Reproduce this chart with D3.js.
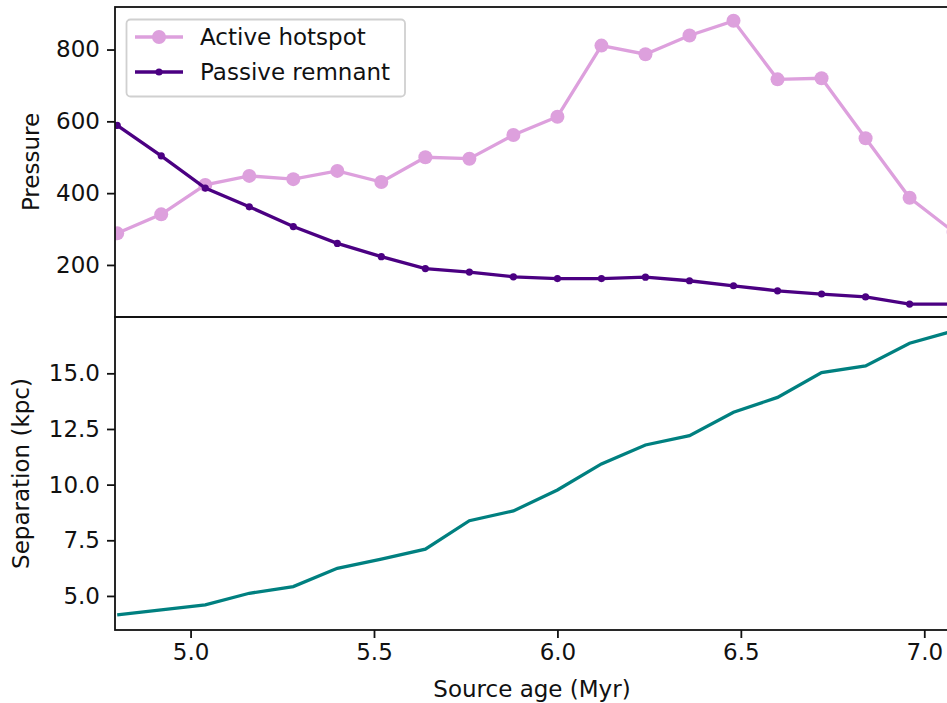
<!DOCTYPE html>
<html>
<head>
<meta charset="utf-8">
<script src="https://cdn.jsdelivr.net/npm/d3@7"></script>
<style>
  body { margin: 0; background: #fff; }
  text { font-family: "DejaVu Sans", sans-serif; fill: #111; }
  .axis text { font-size: 23px; }
  .axis path, .axis line { stroke: #111; }
</style>
</head>
<body>
<div id="chart"></div>
<script>
// source ages, one every 0.12 Myr
const ages = [4.80, 4.92, 5.04, 5.16, 5.28, 5.40, 5.52, 5.64, 5.76, 5.88,
              6.00, 6.12, 6.24, 6.36, 6.48, 6.60, 6.72, 6.84, 6.96, 7.08];
const activeHotspot = [288, 341, 423, 448, 439, 462, 431, 500, 496, 562,
                       613, 811, 787, 839, 880, 717, 720, 553, 387, 292];
const passiveRemnant = [589, 504, 414, 362, 307, 260, 223, 190, 180, 167,
                        162, 162, 166, 156, 142, 128, 119, 111, 91, 91];
const separation = [4.15, 4.37, 4.60, 5.12, 5.42, 6.24, 6.65, 7.10, 8.38, 8.82,
                    9.76, 10.93, 11.78, 12.20, 13.25, 13.92, 15.03, 15.33, 16.35, 16.91];
const xTicks = [5.0, 5.5, 6.0, 6.5, 7.0];
const pressureTicks = [200, 400, 600, 800];
const sepTicks = [5.0, 7.5, 10.0, 12.5, 15.0];
const seriesNames = ["Active hotspot", "Passive remnant"];

const width = 947, height = 703;
// axes box, right spine sits just past the edge of the picture
const left = 115, right = 949, top1 = 7, mid = 317, bottom = 630;

const svg = d3.select("#chart")
  .append("svg")
  .attr("width", width)
  .attr("height", height);

let x = d3.scaleLinear()
  .domain([4.794, 7.0674])
  .range([left, right]);

let yP = d3.scaleLinear()
  .domain([55, 918.5])
  .range([mid, top1]);

let yS = d3.scaleLinear()
  .domain([3.47, 17.53])
  .range([bottom, mid]);

// clip each panel to its axes box
const defs = svg.append("defs");
defs.append("clipPath").attr("id", "clipTop")
  .append("rect").attr("x", left).attr("y", top1).attr("width", right - left).attr("height", mid - top1);
defs.append("clipPath").attr("id", "clipBot")
  .append("rect").attr("x", left).attr("y", mid).attr("width", right - left).attr("height", bottom - mid);

/* top panel: pressure */
const topG = svg.append("g").attr("clip-path", "url(#clipTop)");

let linePressure = d3.line()
  .x((d, i) => x(ages[i]))
  .y(d => yP(d));

topG.append("path")
  .datum(activeHotspot)
  .attr("d", linePressure)
  .attr("fill", "none")
  .attr("stroke", "plum")
  .attr("stroke-width", 3.3);

topG.selectAll(".dot-active")
  .data(activeHotspot)
  .join("circle")
  .attr("class", "dot-active")
  .attr("cx", (d, i) => x(ages[i]))
  .attr("cy", d => yP(d))
  .attr("r", 7)
  .attr("fill", "plum");

topG.append("path")
  .datum(passiveRemnant)
  .attr("d", linePressure)
  .attr("fill", "none")
  .attr("stroke", "indigo")
  .attr("stroke-width", 3.3);

topG.selectAll(".dot-passive")
  .data(passiveRemnant)
  .join("circle")
  .attr("class", "dot-passive")
  .attr("cx", (d, i) => x(ages[i]))
  .attr("cy", d => yP(d))
  .attr("r", 3.6)
  .attr("fill", "indigo");

/* bottom panel: separation */
const botG = svg.append("g").attr("clip-path", "url(#clipBot)");

botG.append("path")
  .datum(separation)
  .attr("d", d3.line().x((d, i) => x(ages[i])).y(d => yS(d)))
  .attr("fill", "none")
  .attr("stroke", "teal")
  .attr("stroke-width", 3.3);

// axes
svg.append("g")
  .attr("class", "axis")
  .attr("transform", `translate(${left},0)`)
  .call(d3.axisLeft(yP).tickValues(pressureTicks).tickSize(8).tickPadding(7).tickSizeOuter(0))
  .call(g => g.select(".domain").remove());

svg.append("g")
  .attr("class", "axis")
  .attr("transform", `translate(${left},0)`)
  .call(d3.axisLeft(yS).tickValues(sepTicks).tickFormat(d3.format(".1f")).tickSize(8).tickPadding(7).tickSizeOuter(0))
  .call(g => g.select(".domain").remove());

svg.append("g")
  .attr("class", "axis")
  .attr("transform", `translate(0,${bottom})`)
  .call(d3.axisBottom(x).tickValues(xTicks).tickFormat(d3.format(".1f")).tickSize(8).tickPadding(6).tickSizeOuter(0))
  .call(g => g.select(".domain").remove());

svg.selectAll(".axis line").attr("stroke-width", 1.8);

// spines
svg.append("rect")
  .attr("x", left).attr("y", top1)
  .attr("width", right - left).attr("height", mid - top1)
  .attr("fill", "none").attr("stroke", "#111").attr("stroke-width", 1.8);
svg.append("rect")
  .attr("x", left).attr("y", mid)
  .attr("width", right - left).attr("height", bottom - mid)
  .attr("fill", "none").attr("stroke", "#111").attr("stroke-width", 1.8);

// axis labels
svg.append("text")
  .attr("text-anchor", "middle")
  .attr("x", (left + right) / 2)
  .attr("y", 697)
  .style("font-size", "23px")
  .text("Source age (Myr)");

svg.append("text")
  .attr("text-anchor", "middle")
  .attr("transform", `translate(39,${(top1 + mid) / 2}) rotate(-90)`)
  .style("font-size", "23px")
  .text("Pressure");

svg.append("text")
  .attr("text-anchor", "middle")
  .attr("transform", `translate(29,${(mid + bottom) / 2}) rotate(-90)`)
  .style("font-size", "23px")
  .text("Separation (kpc)");

// legend
const legend = svg.append("g");
legend.append("rect")
  .attr("x", 126.5).attr("y", 19.5)
  .attr("width", 278.5).attr("height", 77)
  .attr("rx", 4)
  .attr("fill", "#fff").attr("fill-opacity", 0.8)
  .attr("stroke", "#d0d0d0").attr("stroke-width", 1.8);

const legColors = ["plum", "indigo"];
const legR = [7, 3.6];
seriesNames.forEach((name, i) => {
  const ly = 37 + i * 35;
  legend.append("line")
    .attr("x1", 135).attr("x2", 183)
    .attr("y1", ly).attr("y2", ly)
    .attr("stroke", legColors[i]).attr("stroke-width", 3.3);
  legend.append("circle")
    .attr("cx", 159).attr("cy", ly).attr("r", legR[i])
    .attr("fill", legColors[i]);
  legend.append("text")
    .attr("x", 200).attr("y", ly)
    .attr("dy", "0.35em")
    .style("font-size", "23px")
    .text(name);
});
</script>
</body>
</html>
